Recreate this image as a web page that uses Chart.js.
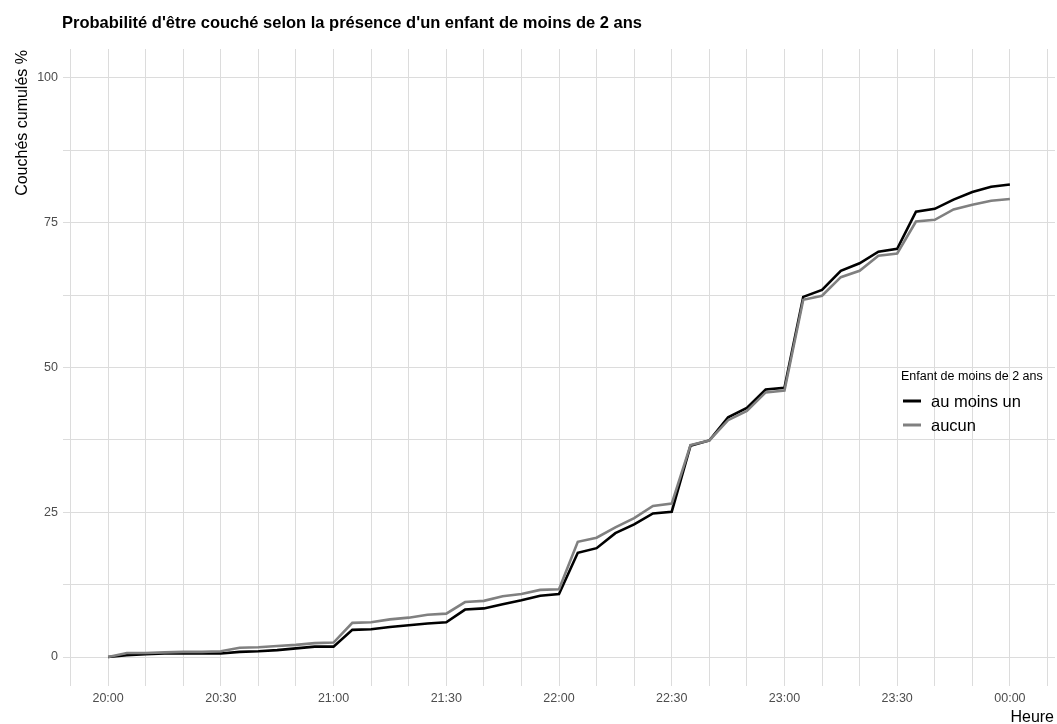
<!DOCTYPE html>
<html lang="fr">
<head>
<meta charset="utf-8">
<title>Probabilité d'être couché</title>
<script src="https://cdn.jsdelivr.net/npm/chart.js@4"></script>
<style>
  html, body { margin: 0; padding: 0; background: #fff; }
  #wrap { width: 1057px; height: 724px; position: relative; }
</style>
</head>
<body>
<div id="wrap"><canvas id="coucheChart"></canvas></div>
<script>
// ----------------------------------------
// Data
// ----------------------------------------
const heures = [
  '20:00', '20:05', '20:10', '20:15', '20:20', '20:25', '20:30', '20:35', '20:40', '20:45',
  '20:50', '20:55', '21:00', '21:05', '21:10', '21:15', '21:20', '21:25', '21:30', '21:35',
  '21:40', '21:45', '21:50', '21:55', '22:00', '22:05', '22:10', '22:15', '22:20', '22:25',
  '22:30', '22:35', '22:40', '22:45', '22:50', '22:55', '23:00', '23:05', '23:10', '23:15',
  '23:20', '23:25', '23:30', '23:35', '23:40', '23:45', '23:50', '23:55', '00:00'
];

const auMoinsUn = [
  0, 0.3, 0.5, 0.6, 0.6, 0.6, 0.6, 0.9, 1.0, 1.2,
  1.5, 1.8, 1.8, 4.7, 4.8, 5.2, 5.5, 5.8, 6.0, 8.2,
  8.4, 9.1, 9.8, 10.6, 10.9, 18.0, 18.8, 21.4, 22.9, 24.8,
  25.1, 36.5, 37.4, 41.4, 43.0, 46.2, 46.5, 62.2, 63.4, 66.7,
  68.0, 70.0, 70.5, 76.9, 77.4, 79.0, 80.3, 81.2, 81.6
];

const aucun = [
  0, 0.7, 0.7, 0.8, 0.9, 0.9, 1.0, 1.6, 1.7, 1.9,
  2.1, 2.4, 2.5, 5.9, 6.0, 6.5, 6.8, 7.3, 7.5, 9.5,
  9.7, 10.5, 10.9, 11.6, 11.7, 19.9, 20.6, 22.4, 24.0, 26.1,
  26.5, 36.6, 37.4, 40.9, 42.5, 45.7, 46.0, 61.7, 62.4, 65.6,
  66.7, 69.3, 69.7, 75.2, 75.5, 77.3, 78.1, 78.8, 79.1
];

const xLabels = ['20:00', '20:30', '21:00', '21:30', '22:00', '22:30', '23:00', '23:30', '00:00'];
const yLabels = [0, 25, 50, 75, 100];

// minutes since 20:00 (00:00 -> 240)
function toMinutes(h) {
  const [hh, mm] = h.split(':').map(Number);
  let m = (hh - 20) * 60 + mm;
  if (m < 0) m += 24 * 60;
  return m;
}

function toHeure(m) {
  const t = ((m + 20 * 60) % (24 * 60) + 24 * 60) % (24 * 60);
  const hh = String(Math.floor(t / 60)).padStart(2, '0');
  const mm = String(t % 60).padStart(2, '0');
  return hh + ':' + mm;
}

const FONT = "'Liberation Sans', Arial, sans-serif";

// titles + legend
const decorPlugin = {
  id: 'decor',
  afterDraw(chart) {
    const ctx = chart.ctx;
    ctx.save();
    ctx.fillStyle = '#000';
    ctx.textBaseline = 'alphabetic';

    // main title
    ctx.font = 'bold 16.5px ' + FONT;
    ctx.textAlign = 'left';
    ctx.fillText("Probabilité d'être couché selon la présence d'un enfant de moins de 2 ans", 62, 28);

    // y axis title (top aligned)
    ctx.save();
    ctx.font = '16px ' + FONT;
    ctx.translate(27, 50);
    ctx.rotate(-Math.PI / 2);
    ctx.textAlign = 'right';
    ctx.fillText('Couchés cumulés %', 0, 0);
    ctx.restore();

    // x axis title (right aligned)
    ctx.font = '16px ' + FONT;
    ctx.textAlign = 'right';
    ctx.fillText('Heure', 1054, 722);

    // legend
    ctx.textAlign = 'left';
    ctx.font = '12.5px ' + FONT;
    ctx.fillText('Enfant de moins de 2 ans', 901, 380);
    chart.data.datasets.forEach((ds, i) => {
      const yMid = 401 + i * 24;
      ctx.strokeStyle = ds.borderColor;
      ctx.lineWidth = 3;
      ctx.beginPath();
      ctx.moveTo(903, yMid);
      ctx.lineTo(921, yMid);
      ctx.stroke();
      ctx.font = '16.5px ' + FONT;
      ctx.fillText(ds.label, 931, yMid + 6);
    });
    ctx.restore();
  }
};

const gridColor = '#dcdcdc';

const ctx = document.getElementById('coucheChart').getContext('2d');
new Chart(ctx, {
  type: 'line',
  data: {
    datasets: [
      {
        label: 'au moins un',
        data: heures.map((h, i) => ({ x: toMinutes(h), y: auMoinsUn[i] })),
        borderColor: '#000000',
        borderWidth: 2.6,
        pointRadius: 0,
        tension: 0,
        order: 1
      },
      {
        label: 'aucun',
        data: heures.map((h, i) => ({ x: toMinutes(h), y: aucun[i] })),
        borderColor: '#808080',
        borderWidth: 2.6,
        pointRadius: 0,
        tension: 0,
        order: 0
      }
    ]
  },
  options: {
    responsive: true,
    maintainAspectRatio: false,
    animation: false,
    layout: {
      padding: { top: 49, right: 2, left: 0, bottom: 0 }
    },
    scales: {
      x: {
        type: 'linear',
        min: -12,
        max: 252,
        afterBuildTicks(scale) {
          const ticks = [];
          for (let v = -10; v <= 250; v += 10) ticks.push({ value: v });
          scale.ticks = ticks;
        },
        afterFit(scale) { scale.height = 38; },
        grid: { color: gridColor, lineWidth: 1, drawTicks: false },
        border: { display: false },
        ticks: {
          autoSkip: false,
          maxRotation: 0,
          padding: 5,
          color: '#4d4d4d',
          font: { family: FONT, size: 12.5 },
          callback: (v) => {
            const lab = toHeure(v);
            return (v >= 0 && v <= 240 && xLabels.includes(lab)) ? lab : '';
          }
        }
      },
      y: {
        min: -5,
        max: 105,
        afterBuildTicks(scale) {
          const ticks = [];
          for (let v = 0; v <= 100; v += 12.5) ticks.push({ value: v });
          scale.ticks = ticks;
        },
        afterFit(scale) { scale.width = 63; },
        grid: { color: gridColor, lineWidth: 1, drawTicks: false },
        border: { display: false },
        ticks: {
          autoSkip: false,
          padding: 5,
          color: '#4d4d4d',
          font: { family: FONT, size: 12.5 },
          callback: (v) => yLabels.includes(v) ? String(v) : ''
        }
      }
    },
    plugins: {
      legend: { display: false },
      title: { display: false },
      tooltip: { enabled: false }
    }
  },
  plugins: [decorPlugin]
});
</script>
</body>
</html>
